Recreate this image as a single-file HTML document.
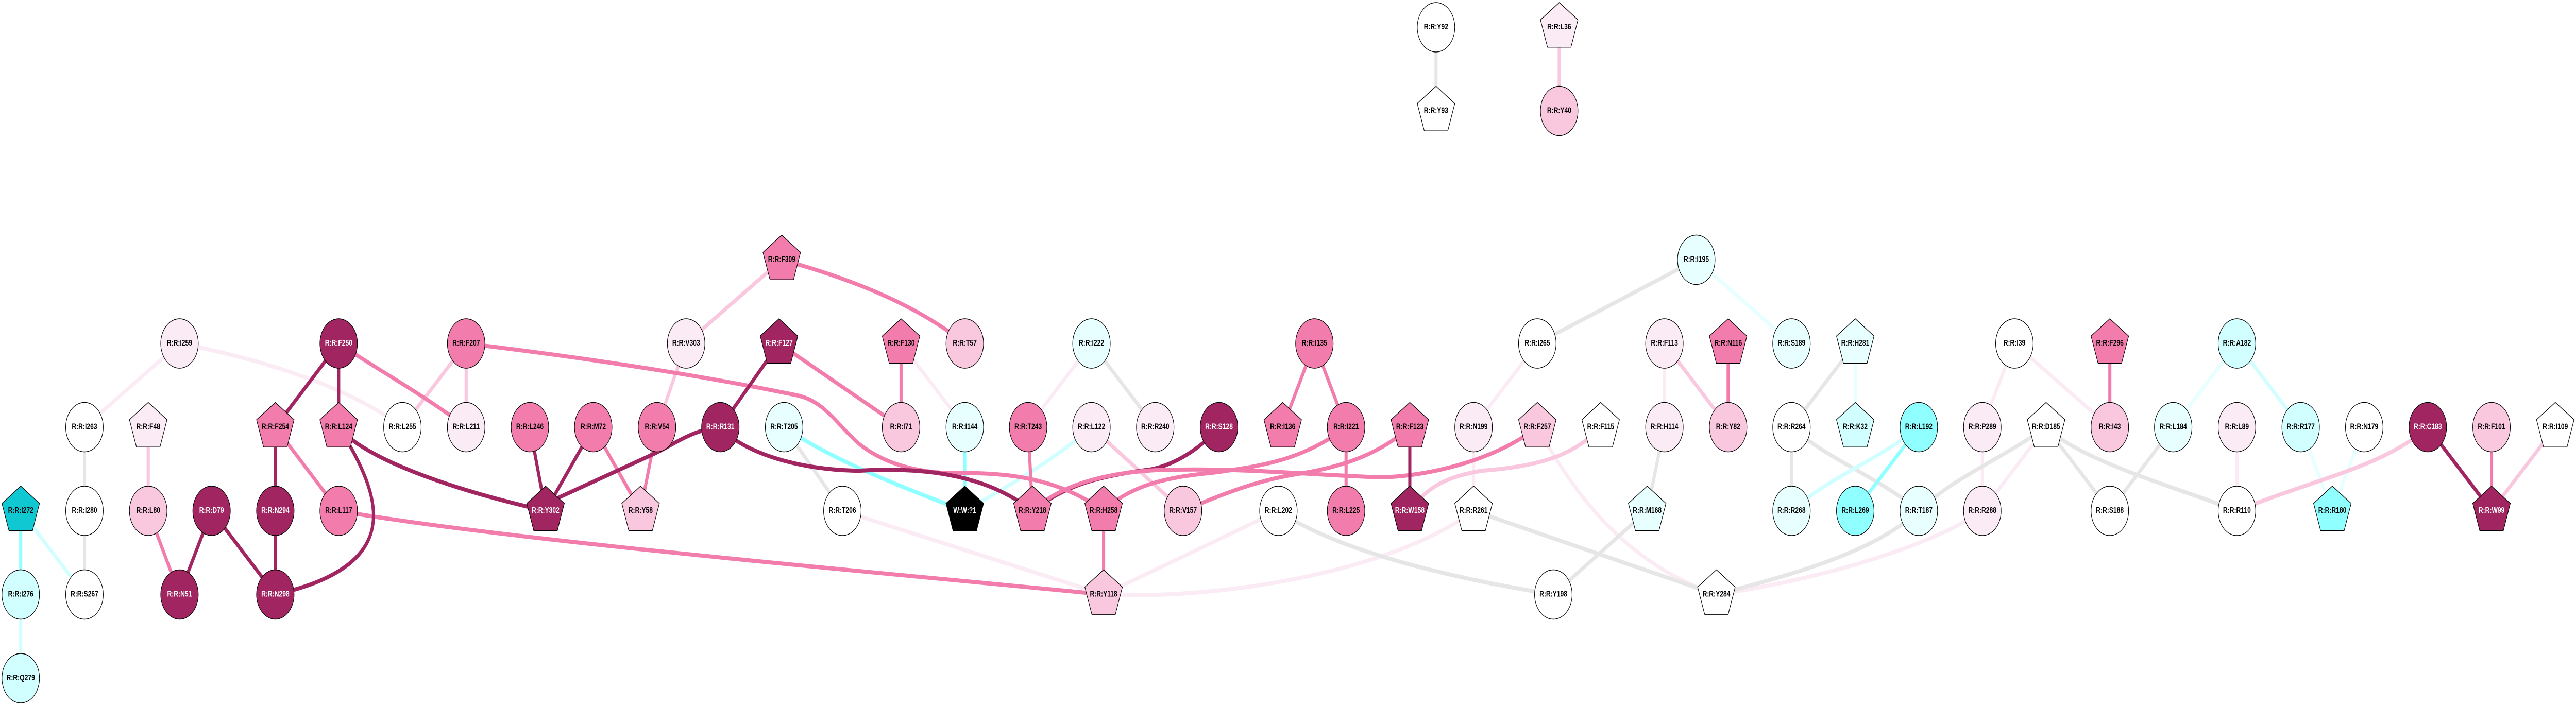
<!DOCTYPE html>
<html><head><meta charset="utf-8"><style>
html,body{margin:0;padding:0;background:#fff;width:100%;height:100%;overflow:hidden}
svg{display:block;width:100vw;height:100vh}
#E path{fill:none;stroke-width:8}
#N g{stroke:#000;stroke-width:1.4}
#N text{stroke:none;fill:#000;font:bold 16px "Liberation Sans",Arial,sans-serif;text-anchor:middle}
.d{fill:#a12560}.p{fill:#f27dac}.l{fill:#f9c7de}.v{fill:#fbebf4}.w{fill:#fff}
.c3{fill:#e7ffff}.c2{fill:#d1ffff}.c1{fill:#8fffff}.c0{fill:#10c8d2}.k{fill:#000}
#N g.d text,#N g.k text{fill:#fff}
.D{stroke:#a12560}.P{stroke:#f27dac}.L{stroke:#f9c7de}.V{stroke:#fbebf4}.G{stroke:#e6e6e6}
.C3{stroke:#e7ffff}.C2{stroke:#d1ffff}.C1{stroke:#8fffff}
</style></head><body>
<svg xmlns="http://www.w3.org/2000/svg" viewBox="0 0 6587 1371" preserveAspectRatio="none">
<defs><polygon id="P5" points="0,-48 48,-14.5 30,38.7 -30,38.7 -48,-14.5"/></defs>
<rect width="6587" height="1371" fill="#fff"/>
<g id="E">
<!-- very light -->
<path class="V" d="M459,667L216,829.5"/>
<path class="V" d="M459,667C650,695 880,745 1029,829.5"/>
<path class="V" d="M2304,667L2467,829.5"/>
<path class="V" d="M2791,667L2629,829.5"/>
<path class="V" d="M2154,992L2822,1154.5"/>
<path class="V" d="M3269,992L2822,1154.5"/>
<path class="V" d="M2822,1154.5C3100,1165 3550,1115 3768,992"/>
<path class="V" d="M3768,829.5L3768,992"/>
<path class="V" d="M3931,667L3768,829.5"/>
<path class="V" d="M3931,829.5C4030,965 4160,1095 4389,1154.5"/>
<path class="V" d="M4256,667L4256,829.5"/>
<path class="V" d="M5069,829.5L5069,992"/>
<path class="V" d="M5151,667L5069,829.5"/>
<path class="V" d="M5151,667L5395,829.5"/>
<path class="V" d="M5232,829.5L5069,992"/>
<path class="V" d="M5069,992C4960,1050 4700,1120 4389,1154.5"/>
<path class="V" d="M5720,829.5L5720,992"/>
<!-- gray -->
<path class="G" d="M216,829.5L216,992"/>
<path class="G" d="M216,992L216,1154.5"/>
<path class="G" d="M2005,829.5L2154,992"/>
<path class="G" d="M2791,667L2954,829.5"/>
<path class="G" d="M3269,992C3400,1060 3650,1115 3972,1154.5"/>
<path class="G" d="M3768,992L4389,1154.5"/>
<path class="G" d="M4337.5,504.5L3931,667"/>
<path class="G" d="M3672,53L3672,215.5"/>
<path class="G" d="M4256,829.5L4212,992"/>
<path class="G" d="M4212,992L3972,1154.5"/>
<path class="G" d="M4744,667L4581,829.5"/>
<path class="G" d="M4581,829.5L4581,992"/>
<path class="G" d="M4581,829.5C4680,895 4800,925 4906.5,992"/>
<path class="G" d="M4906.5,992C5000,925 5110,895 5232,829.5"/>
<path class="G" d="M4906.5,992C4800,1065 4640,1105 4389,1154.5"/>
<path class="G" d="M5232,829.5L5395,992"/>
<path class="G" d="M5232,829.5C5320,895 5560,945 5720,992"/>
<path class="G" d="M5557,829.5L5395,992"/>
<!-- cyan -->
<path class="C1" d="M53,992L53,1154.5"/>
<path class="C2" d="M53,992L216,1154.5"/>
<path class="C2" d="M53,1154.5L53,1317"/>
<path class="C1" d="M2005,829.5C2120,890 2300,945 2467,992"/>
<path class="C1" d="M2467,829.5L2467,992"/>
<path class="C2" d="M2791,829.5C2700,890 2600,935 2467,992"/>
<path class="C3" d="M4337.5,504.5L4581,667"/>
<path class="C3" d="M4744,667L4744,829.5"/>
<path class="C1" d="M4906.5,829.5L4744,992"/>
<path class="C2" d="M4906.5,829.5C4800,895 4680,925 4581,992"/>
<path class="C3" d="M5720,667L5557,829.5"/>
<path class="C2" d="M5720,667L5883,829.5"/>
<path class="C3" d="M5883,829.5L5964,992"/>
<path class="C3" d="M6045.5,829.5L5964,992"/>
<!-- light -->
<path class="L" d="M379,829.5L379,992"/>
<path class="L" d="M1029,829.5L1192,667"/>
<path class="L" d="M1192,667L1192,829.5"/>
<path class="L" d="M1999,504.5L1754.5,667"/>
<path class="L" d="M1754.5,667L1680,829.5"/>
<path class="L" d="M2791,829.5L3025,992"/>
<path class="L" d="M3987,53L3987,215.5"/>
<path class="L" d="M4093,829.5C4030,880 3950,905 3791,914C3700,925 3650,945 3605,992"/>
<path class="L" d="M4256,667L4419,829.5"/>
<path class="L" d="M6208,829.5C6100,905 5920,930 5720,992"/>
<path class="L" d="M6534,829.5L6371,992"/>
<!-- dark under pink -->
<path class="D" d="M3117,829.5C3060,880 2990,905 2940,912C2800,925 2720,945 2640,992"/>
<!-- pink -->
<path class="P" d="M866,667C960,715 1090,770 1192,829.5"/>
<path class="P" d="M704,829.5L866,992"/>
<path class="P" d="M379,992L459,1154.5"/>
<path class="P" d="M866,992C1300,1050 2300,1115 2822,1154.5"/>
<path class="P" d="M1517,829.5L1638,992"/>
<path class="P" d="M1680,829.5L1638,992"/>
<path class="P" d="M1192,667C1500,695 1800,730 2040,768C2110,780 2140,825 2200,864C2270,905 2360,919 2445,919C2560,917 2700,925 2822,992"/>
<path class="P" d="M1992,667L2304,829.5"/>
<path class="P" d="M1999,504.5C2170,540 2340,590 2467,667"/>
<path class="P" d="M2304,667L2304,829.5"/>
<path class="P" d="M2629,829.5L2640,992"/>
<path class="P" d="M2822,992L2822,1154.5"/>
<path class="P" d="M2640,992C2720,935 2860,912 3011,912C3200,910 3350,922 3531,927C3650,925 3820,895 3931,829.5"/>
<path class="P" d="M2822,992C2900,935 3010,925 3112,917C3220,905 3330,895 3442,829.5"/>
<path class="P" d="M3025,992C3110,965 3210,932 3330,919C3440,905 3530,880 3605,829.5"/>
<path class="P" d="M3361,667L3280,829.5"/>
<path class="P" d="M3361,667L3442,829.5"/>
<path class="P" d="M3442,829.5L3442,992"/>
<path class="P" d="M4419,667L4419,829.5"/>
<path class="P" d="M5395,667L5395,829.5"/>
<path class="P" d="M6371,829.5L6371,992"/>
<!-- dark -->
<path class="D" d="M866,667L704,829.5"/>
<path class="D" d="M866,667L866,829.5"/>
<path class="D" d="M704,829.5L704,992"/>
<path class="D" d="M704,992L704,1154.5"/>
<path class="D" d="M541,992L459,1154.5"/>
<path class="D" d="M541,992L704,1154.5"/>
<path class="D" d="M866,829.5C930,890 1150,950 1395,992"/>
<path class="D" d="M866,829.5C950,930 985,1010 925,1070C880,1115 790,1140 704,1154.5"/>
<path class="D" d="M1355,829.5L1395,992"/>
<path class="D" d="M1517,829.5L1395,992"/>
<path class="D" d="M1842,829.5C1770,835 1730,860 1676,880L1395,978"/>
<path class="D" d="M1842,829.5L1992,667"/>
<path class="D" d="M1842,829.5C1900,880 2050,914 2200,914C2340,908 2510,915 2640,992"/>
<path class="D" d="M3605,829.5L3605,992"/>
<path class="D" d="M6208,829.5L6371,992"/>
</g>
<g id="N">
<g class="v" transform="translate(459 667)"><circle r="48"/><text y="4">R:R:I259</text></g>
<g class="d" transform="translate(866 667)"><circle r="48"/><text y="4">R:R:F250</text></g>
<g class="w" transform="translate(216 829.5)"><circle r="48"/><text y="4">R:R:I263</text></g>
<g class="v" transform="translate(379 829.5)"><use href="#P5"/><text y="4">R:R:F48</text></g>
<g class="p" transform="translate(704 829.5)"><use href="#P5"/><text y="4">R:R:F254</text></g>
<g class="p" transform="translate(866 829.5)"><use href="#P5"/><text y="4">R:R:L124</text></g>
<g class="w" transform="translate(1029 829.5)"><circle r="48"/><text y="4">R:R:L255</text></g>
<g class="c0" transform="translate(53 992)"><use href="#P5"/><text y="4">R:R:I272</text></g>
<g class="w" transform="translate(216 992)"><circle r="48"/><text y="4">R:R:I280</text></g>
<g class="l" transform="translate(379 992)"><circle r="48"/><text y="4">R:R:L80</text></g>
<g class="d" transform="translate(541 992)"><circle r="48"/><text y="4">R:R:D79</text></g>
<g class="d" transform="translate(704 992)"><circle r="48"/><text y="4">R:R:N294</text></g>
<g class="p" transform="translate(866 992)"><circle r="48"/><text y="4">R:R:L117</text></g>
<g class="c2" transform="translate(53 1154.5)"><circle r="48"/><text y="4">R:R:I276</text></g>
<g class="w" transform="translate(216 1154.5)"><circle r="48"/><text y="4">R:R:S267</text></g>
<g class="d" transform="translate(459 1154.5)"><circle r="48"/><text y="4">R:R:N51</text></g>
<g class="d" transform="translate(704 1154.5)"><circle r="48"/><text y="4">R:R:N298</text></g>
<g class="c2" transform="translate(53 1317)"><circle r="48"/><text y="4">R:R:Q279</text></g>

<g class="p" transform="translate(1192 667)"><circle r="48"/><text y="4">R:R:F207</text></g>
<g class="v" transform="translate(1192 829.5)"><circle r="48"/><text y="4">R:R:L211</text></g>
<g class="p" transform="translate(1355 829.5)"><circle r="48"/><text y="4">R:R:L246</text></g>
<g class="p" transform="translate(1517 829.5)"><circle r="48"/><text y="4">R:R:M72</text></g>
<g class="p" transform="translate(1680 829.5)"><circle r="48"/><text y="4">R:R:V54</text></g>
<g class="v" transform="translate(1754.5 667)"><circle r="48"/><text y="4">R:R:V303</text></g>
<g class="p" transform="translate(1999 504.5)"><use href="#P5"/><text y="4">R:R:F309</text></g>
<g class="d" transform="translate(1992 667)"><use href="#P5"/><text y="4">R:R:F127</text></g>
<g class="d" transform="translate(1842 829.5)"><circle r="48"/><text y="4">R:R:R131</text></g>
<g class="c3" transform="translate(2005 829.5)"><circle r="48"/><text y="4">R:R:T205</text></g>
<g class="d" transform="translate(1395 992)"><use href="#P5"/><text y="4">R:R:Y302</text></g>
<g class="l" transform="translate(1638 992)"><use href="#P5"/><text y="4">R:R:Y58</text></g>
<g class="w" transform="translate(2154 992)"><circle r="48"/><text y="4">R:R:T206</text></g>

<g class="p" transform="translate(2304 667)"><use href="#P5"/><text y="4">R:R:F130</text></g>
<g class="l" transform="translate(2467 667)"><circle r="48"/><text y="4">R:R:T57</text></g>
<g class="c3" transform="translate(2791 667)"><circle r="48"/><text y="4">R:R:I222</text></g>
<g class="l" transform="translate(2304 829.5)"><circle r="48"/><text y="4">R:R:I71</text></g>
<g class="c3" transform="translate(2467 829.5)"><circle r="48"/><text y="4">R:R:I144</text></g>
<g class="p" transform="translate(2629 829.5)"><circle r="48"/><text y="4">R:R:T243</text></g>
<g class="v" transform="translate(2791 829.5)"><circle r="48"/><text y="4">R:R:L122</text></g>
<g class="v" transform="translate(2954 829.5)"><circle r="48"/><text y="4">R:R:R240</text></g>
<g class="d" transform="translate(3117 829.5)"><circle r="48"/><text y="4">R:R:S128</text></g>
<g class="p" transform="translate(3280 829.5)"><use href="#P5"/><text y="4">R:R:I136</text></g>
<g class="k" transform="translate(2467 992)"><use href="#P5"/><text y="4">W:W:?1</text></g>
<g class="p" transform="translate(2640 992)"><use href="#P5"/><text y="4">R:R:Y218</text></g>
<g class="p" transform="translate(2822 992)"><use href="#P5"/><text y="4">R:R:H258</text></g>
<g class="l" transform="translate(3025 992)"><circle r="48"/><text y="4">R:R:V157</text></g>
<g class="w" transform="translate(3269 992)"><circle r="48"/><text y="4">R:R:L202</text></g>
<g class="l" transform="translate(2822 1154.5)"><use href="#P5"/><text y="4">R:R:Y118</text></g>

<g class="w" transform="translate(3672 53)"><circle r="48"/><text y="4">R:R:Y92</text></g>
<g class="w" transform="translate(3672 215.5)"><use href="#P5"/><text y="4">R:R:Y93</text></g>
<g class="v" transform="translate(3987 53)"><use href="#P5"/><text y="4">R:R:L36</text></g>
<g class="l" transform="translate(3987 215.5)"><circle r="48"/><text y="4">R:R:Y40</text></g>
<g class="c3" transform="translate(4337.5 504.5)"><circle r="48"/><text y="4">R:R:I195</text></g>
<g class="p" transform="translate(3361 667)"><circle r="48"/><text y="4">R:R:I135</text></g>
<g class="w" transform="translate(3931 667)"><circle r="48"/><text y="4">R:R:I265</text></g>
<g class="v" transform="translate(4256 667)"><circle r="48"/><text y="4">R:R:F113</text></g>
<g class="p" transform="translate(3442 829.5)"><circle r="48"/><text y="4">R:R:I221</text></g>
<g class="p" transform="translate(3605 829.5)"><use href="#P5"/><text y="4">R:R:F123</text></g>
<g class="v" transform="translate(3768 829.5)"><circle r="48"/><text y="4">R:R:N199</text></g>
<g class="l" transform="translate(3931 829.5)"><use href="#P5"/><text y="4">R:R:F257</text></g>
<g class="w" transform="translate(4093 829.5)"><use href="#P5"/><text y="4">R:R:F115</text></g>
<g class="v" transform="translate(4256 829.5)"><circle r="48"/><text y="4">R:R:H114</text></g>
<g class="p" transform="translate(3442 992)"><circle r="48"/><text y="4">R:R:L225</text></g>
<g class="d" transform="translate(3605 992)"><use href="#P5"/><text y="4">R:R:W158</text></g>
<g class="w" transform="translate(3768 992)"><use href="#P5"/><text y="4">R:R:R261</text></g>
<g class="c3" transform="translate(4212 992)"><use href="#P5"/><text y="4">R:R:M168</text></g>
<g class="w" transform="translate(3972 1154.5)"><circle r="48"/><text y="4">R:R:Y198</text></g>
<g class="w" transform="translate(4389 1154.5)"><use href="#P5"/><text y="4">R:R:Y284</text></g>

<g class="p" transform="translate(4419 667)"><use href="#P5"/><text y="4">R:R:N116</text></g>
<g class="c3" transform="translate(4581 667)"><circle r="48"/><text y="4">R:R:S189</text></g>
<g class="c3" transform="translate(4744 667)"><use href="#P5"/><text y="4">R:R:H281</text></g>
<g class="w" transform="translate(5151 667)"><circle r="48"/><text y="4">R:R:I39</text></g>
<g class="p" transform="translate(5395 667)"><use href="#P5"/><text y="4">R:R:F296</text></g>
<g class="l" transform="translate(4419 829.5)"><circle r="48"/><text y="4">R:R:Y82</text></g>
<g class="w" transform="translate(4581 829.5)"><circle r="48"/><text y="4">R:R:R264</text></g>
<g class="c2" transform="translate(4744 829.5)"><use href="#P5"/><text y="4">R:R:K32</text></g>
<g class="c1" transform="translate(4906.5 829.5)"><circle r="48"/><text y="4">R:R:L192</text></g>
<g class="v" transform="translate(5069 829.5)"><circle r="48"/><text y="4">R:R:P289</text></g>
<g class="w" transform="translate(5232 829.5)"><use href="#P5"/><text y="4">R:R:D185</text></g>
<g class="l" transform="translate(5395 829.5)"><circle r="48"/><text y="4">R:R:I43</text></g>
<g class="c3" transform="translate(4581 992)"><circle r="48"/><text y="4">R:R:R268</text></g>
<g class="c1" transform="translate(4744 992)"><circle r="48"/><text y="4">R:R:L269</text></g>
<g class="c3" transform="translate(4906.5 992)"><circle r="48"/><text y="4">R:R:T187</text></g>
<g class="v" transform="translate(5069 992)"><circle r="48"/><text y="4">R:R:R288</text></g>
<g class="w" transform="translate(5395 992)"><circle r="48"/><text y="4">R:R:S188</text></g>

<g class="c2" transform="translate(5720 667)"><circle r="48"/><text y="4">R:R:A182</text></g>
<g class="c3" transform="translate(5557 829.5)"><circle r="48"/><text y="4">R:R:L184</text></g>
<g class="v" transform="translate(5720 829.5)"><circle r="48"/><text y="4">R:R:L89</text></g>
<g class="c2" transform="translate(5883 829.5)"><circle r="48"/><text y="4">R:R:R177</text></g>
<g class="w" transform="translate(6045.5 829.5)"><circle r="48"/><text y="4">R:R:N179</text></g>
<g class="d" transform="translate(6208 829.5)"><circle r="48"/><text y="4">R:R:C183</text></g>
<g class="l" transform="translate(6371 829.5)"><circle r="48"/><text y="4">R:R:F101</text></g>
<g class="w" transform="translate(6534 829.5)"><use href="#P5"/><text y="4">R:R:I109</text></g>
<g class="w" transform="translate(5720 992)"><circle r="48"/><text y="4">R:R:R110</text></g>
<g class="c1" transform="translate(5964 992)"><use href="#P5"/><text y="4">R:R:R180</text></g>
<g class="d" transform="translate(6371 992)"><use href="#P5"/><text y="4">R:R:W99</text></g>
</g>
</svg>
</body></html>
